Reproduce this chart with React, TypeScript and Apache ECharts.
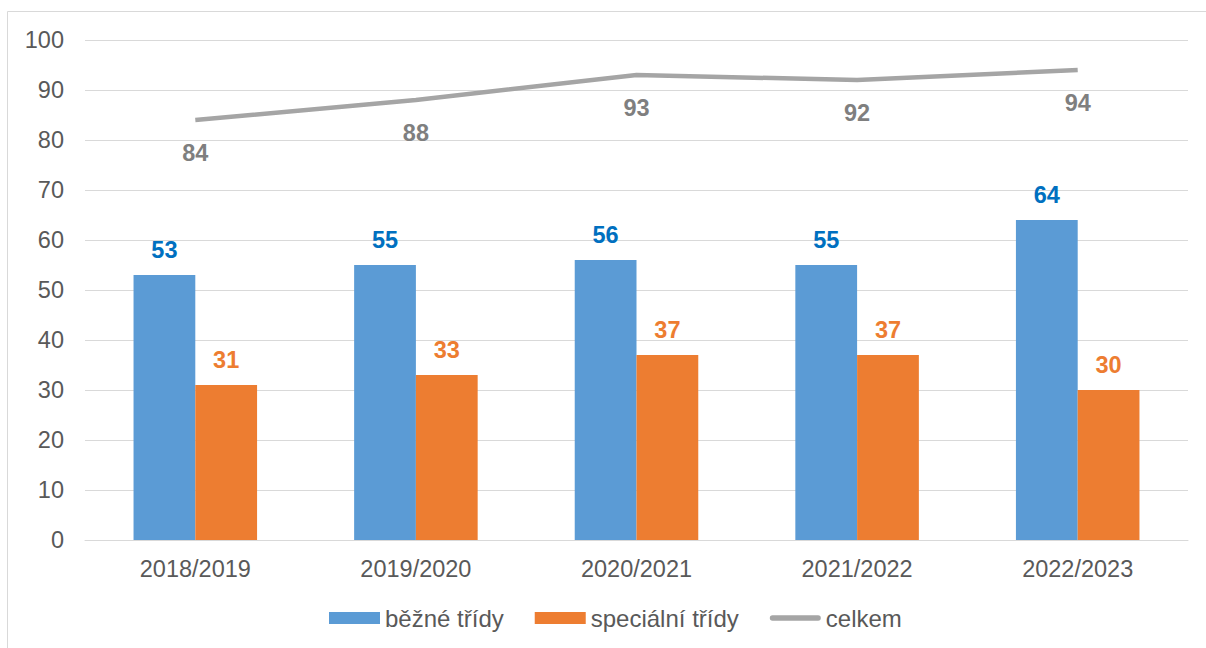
import React, { useEffect, useRef } from "react";
import * as echarts from "echarts";

const categories = ["2018/2019", "2019/2020", "2020/2021", "2021/2022", "2022/2023"];
const bezne = [53, 55, 56, 55, 64];
const specialni = [31, 33, 37, 37, 30];
const celkem = [84, 88, 93, 92, 94];

const FONT = "'Liberation Sans', Arial, sans-serif";
const FS = 23.5;

export default function App() {
  const ref = useRef<HTMLDivElement>(null);
  useEffect(() => {
    const chart = echarts.init(ref.current!, null, { renderer: "svg" });
    chart.setOption({
      animation: false,
      textStyle: { fontFamily: FONT },
      graphic: [
        {
          type: "rect",
          shape: { x: 7.5, y: 11.5, width: 1220, height: 660 },
          style: { fill: "none", stroke: "#d9d9d9", lineWidth: 1 },
          silent: true,
        },
      ],
      grid: { left: 85, right: 18, top: 40, bottom: 108 },
      legend: {
        top: 601,
        left: 324,
        itemWidth: 51,
        itemHeight: 12,
        itemGap: 31,
        symbolKeepAspect: true,
        textStyle: { fontFamily: FONT, fontSize: 24, color: "#595959", padding: [0, 0, 0, 0] },
        data: [
          { name: "běžné třídy", icon: "rect" },
          { name: "speciální třídy", icon: "rect" },
          {
            name: "celkem",
            icon: "path://M3,0 L53,0 A3,3 0 0 1 53,6 L3,6 A3,3 0 0 1 3,0 Z",
            itemStyle: { color: "#a5a5a5", borderWidth: 0 },
          },
        ],
      },
      xAxis: {
        type: "category",
        data: categories,
        axisLine: { lineStyle: { color: "#d9d9d9", width: 1 } },
        axisTick: { show: false },
        axisLabel: { fontFamily: FONT, fontSize: FS, color: "#595959", margin: 17 },
      },
      yAxis: {
        type: "value",
        min: 0,
        max: 100,
        interval: 10,
        axisLine: { show: false },
        axisTick: { show: false },
        splitLine: { lineStyle: { color: "#d9d9d9", width: 1 } },
        axisLabel: { fontFamily: FONT, fontSize: FS, color: "#595959", margin: 21 },
      },
      series: [
        {
          name: "běžné třídy",
          type: "bar",
          data: bezne,
          barGap: "0%",
          barCategoryGap: "44%",
          itemStyle: { color: "#5b9bd5" },
          label: {
            show: true,
            position: "top",
            distance: 13,
            fontFamily: FONT,
            fontSize: FS,
            fontWeight: "bold",
            color: "#0070c0",
          },
        },
        {
          name: "speciální třídy",
          type: "bar",
          data: specialni,
          itemStyle: { color: "#ed7d31" },
          label: {
            show: true,
            position: "top",
            distance: 13,
            fontFamily: FONT,
            fontSize: FS,
            fontWeight: "bold",
            color: "#ed7d31",
          },
        },
        {
          name: "celkem",
          type: "line",
          data: celkem,
          symbol: "circle",
          symbolSize: 0.1,
          showSymbol: true,
          itemStyle: { color: "#a5a5a5" },
          lineStyle: { color: "#a5a5a5", width: 4.5 },
          label: {
            show: true,
            position: "bottom",
            distance: 21,
            fontFamily: FONT,
            fontSize: FS,
            fontWeight: "bold",
            color: "#7f7f7f",
          },
        },
      ],
    });
    return () => chart.dispose();
  }, []);
  return (
    <div
      ref={ref}
      style={{ position: "fixed", left: 0, top: 0, width: 1206, height: 648, background: "#fff" }}
    />
  );
}
